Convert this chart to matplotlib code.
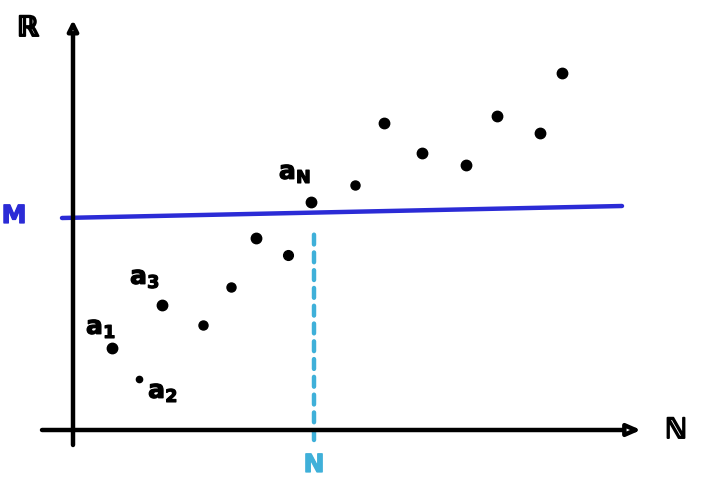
import matplotlib.pyplot as plt
import matplotlib.patheffects as pe
import numpy as np

# sketch coordinates: origin where the two axes cross
seq_x = [39, 66, 89, 130, 158, 183, 215, 238, 282, 311, 349, 393, 424, 467, 489]
seq_y = [80, 49, 123, 103, 141, 190, 173, 226, 243, 305, 275, 263, 312, 295, 355]
dot_sizes = [7.5, 4.5, 7.5, 6.5, 6.5, 7.5, 7, 7.5, 6.5, 7.5, 7.5, 7.5, 7.5, 7.5, 7.5]

labels = [r'$\mathbf{a}_{\mathbf{1}}$', r'$\mathbf{a}_{\mathbf{2}}$',
          r'$\mathbf{a}_{\mathbf{3}}$', r'$\mathbf{a}_{\mathbf{N}}$']
label_x = [28, 90, 72, 222]
label_y = [100, 36, 150, 255]

m_x = [-11, 549]
m_y = [210, 222]
n_x = 241
n_top = 195

fig = plt.figure(figsize=(7.06, 4.91), dpi=100)
ax = fig.add_axes([0, 0, 1, 1])
ax.set_xlim(-73, 633)
ax.set_ylim(-63, 428)
ax.axis('off')

def ink(c, w=0.9):
    return [pe.withStroke(linewidth=w, foreground=c)]

# axes arrows
ax.annotate('', xy=(0, 408), xytext=(0, -17),
            arrowprops=dict(arrowstyle='-|>,head_length=0.6,head_width=0.3',
                            lw=3.2, color='black', fc='white', shrinkA=0, shrinkB=0))
ax.annotate('', xy=(568, -2), xytext=(-31, -2),
            arrowprops=dict(arrowstyle='-|>,head_length=0.8,head_width=0.35',
                            lw=3.2, color='black', fc='white', shrinkA=0, shrinkB=0))

# mean line and the N marker
ax.plot(m_x, m_y, color='#2b2bd6', lw=3.2, solid_capstyle='round')
ax.plot([n_x, n_x], [-12, n_top], color='#3fb0d9', lw=3.2,
        linestyle=(0, (2.2, 1.8)), dash_capstyle='round')

for x, y, s in zip(seq_x, seq_y, dot_sizes):
    ax.plot(x, y, 'o', color='black', markersize=s)

for t, x, y in zip(labels, label_x, label_y):
    ax.text(x, y, t, fontsize=18, color='black', ha='center', va='center',
            path_effects=ink('black'))

ax.text(-45, 400, 'ℝ', fontsize=20, ha='center', va='center',
        path_effects=ink('black', 1.4))
ax.text(603, -2, 'ℕ', fontsize=20, ha='center', va='center',
        path_effects=ink('black', 1.4))
ax.text(-59, 212, 'M', fontsize=18, fontweight='bold', color='#2b2bd6',
        ha='center', va='center', path_effects=ink('#2b2bd6'))
ax.text(241, -37, 'N', fontsize=18, fontweight='bold', color='#3fb0d9',
        ha='center', va='center', path_effects=ink('#3fb0d9'))

fig.savefig('out.png', dpi=100)
